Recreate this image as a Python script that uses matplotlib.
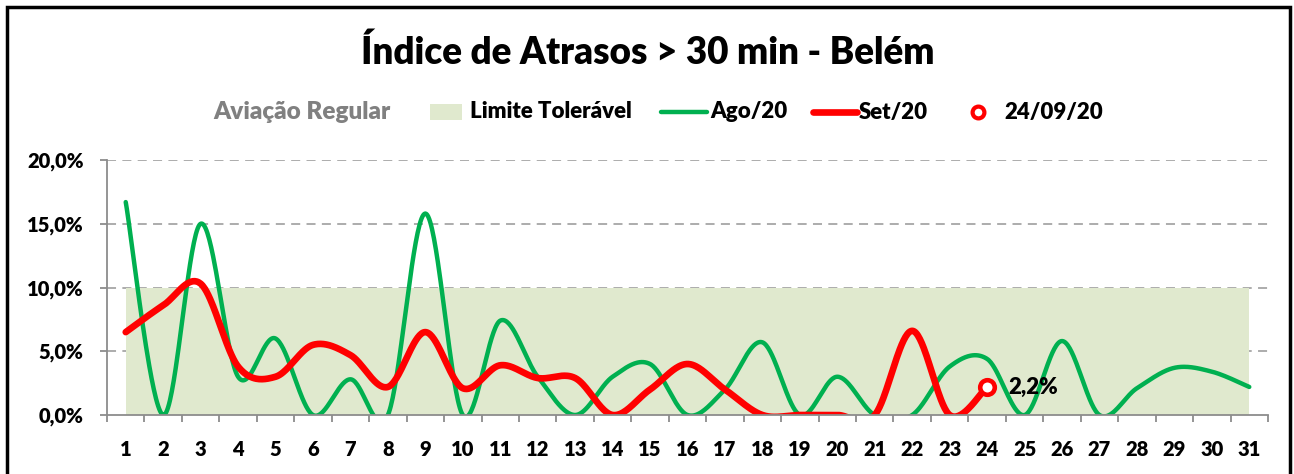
import numpy as np
import matplotlib
matplotlib.use("Agg")
import matplotlib.pyplot as plt
from matplotlib.patches import Rectangle
from matplotlib.lines import Line2D
from matplotlib.ticker import FuncFormatter, FixedLocator

plt.rcParams['font.family'] = ['Lato', 'DejaVu Sans']

days = list(range(1, 32))
limite = [10.0] * 31
ago20 = [16.7, 0, 15.0, 3.0, 6.0, 0, 2.8, 0, 15.8, 0, 7.4, 3.0, 0, 3.0, 4.0, 0,
         2.0, 5.7, 0, 3.0, 0, 0, 3.8, 4.4, 0, 5.8, 0, 2.1, 3.7, 3.4, 2.2]
set20 = [6.5, 8.6, 10.3, 3.8, 3.0, 5.5, 4.7, 2.2, 6.5, 2.1, 3.9, 2.9, 2.9, 0,
         2.0, 4.0, 2.0, 0, 0, 0, 0, 6.6, 0, 2.2]
ponto_dia = 24
ponto_val = 2.2
yticks = [0, 5, 10, 15, 20]

title = "Índice de Atrasos > 30 min - Belém"
lbl_av = "Aviação Regular"
lbl_lim = "Limite Tolerável"
lbl_ago = "Ago/20"
lbl_set = "Set/20"
lbl_pt = "24/09/20"

GREEN = "#00B050"
RED = "#FF0000"
AREA = "#E0E9CE"
GRAY = "#8C8C8C"
WEIGHT = 'heavy'


def smooth(x, y, n=40):
    x = np.asarray(x, float)
    y = np.asarray(y, float)
    P = np.column_stack([x, y])
    Pe = np.vstack([P[0], P, P[-1]])
    out = []
    t = np.linspace(0, 1, n)[:, None]
    for i in range(len(P) - 1):
        p0, p1, p2, p3 = Pe[i], Pe[i + 1], Pe[i + 2], Pe[i + 3]
        b1 = p1 + (p2 - p0) / 6.0
        b2 = p2 - (p3 - p1) / 6.0
        seg = ((1 - t) ** 3) * p1 + 3 * ((1 - t) ** 2) * t * b1 + 3 * (1 - t) * t ** 2 * b2 + t ** 3 * p2
        out.append(seg if i == 0 else seg[1:])
    s = np.vstack(out)
    return s[:, 0], s[:, 1]


W, H = 1294, 474
fig = plt.figure(figsize=(W / 100, H / 100), dpi=100)
ax = fig.add_axes([107 / W, 1 - 415 / H, (1268 - 107) / W, (415 - 160) / H])

ax.fill_between(days, 0, limite, color=AREA, lw=0, zorder=1)
for v in yticks[1:]:
    ax.axhline(v, color="#A6A6A6", lw=1.3, ls=(0, (5, 3.5)), zorder=0.5)

gx, gy = smooth(days, ago20)
ax.plot(gx, gy, color=GREEN, lw=3.2, solid_capstyle='round', zorder=3)
rx, ry = smooth(days[:len(set20)], set20)
ax.plot(rx, ry, color=RED, lw=4.8, solid_capstyle='round', zorder=4)
ax.plot([ponto_dia], [ponto_val], 'o', ms=10.5, mfc='white', mec=RED, mew=3.3, zorder=5)
ax.annotate(f"{ponto_val:.1f}%".replace('.', ','), (ponto_dia, ponto_val),
            xytext=(15, 0), textcoords='offset points', ha='left', va='center',
            fontsize=16, fontweight=WEIGHT, color='black', zorder=6)

ax.set_xlim(0.5, 31.5)
ax.set_ylim(0, 20)
for s in ['top', 'right']:
    ax.spines[s].set_visible(False)
for s in ['left', 'bottom']:
    ax.spines[s].set_color(GRAY)
    ax.spines[s].set_linewidth(1.3)
    ax.spines[s].set_zorder(7)

ax.set_xticks(days)
ax.set_xticklabels([str(d) for d in days])
ax.xaxis.set_minor_locator(FixedLocator(np.arange(0.5, 32, 1)))
ax.tick_params(axis='x', which='major', length=0, pad=18, labelsize=14.5)
ax.tick_params(axis='x', which='minor', length=5, width=1.3, color=GRAY)
ax.set_yticks(yticks)
ax.yaxis.set_major_formatter(FuncFormatter(lambda v, p: f"{v:.1f}%".replace('.', ',')))
ax.tick_params(axis='y', which='major', length=5, width=1.3, color=GRAY, pad=12, labelsize=14.5)
for lab in ax.get_xticklabels() + ax.get_yticklabels():
    lab.set_fontweight(WEIGHT)

fig.text(648 / W, 1 - 52 / H, title, ha='center', va='center', fontsize=26.5, fontweight=WEIGHT)

ly = 1 - 112 / H
fs = 16
fig.text(213 / W, ly, lbl_av, ha='left', va='center', fontsize=17.5, fontweight=WEIGHT, color='#808080')
fig.patches.append(Rectangle((430 / W, 1 - 120 / H), 32 / W, 16 / H, transform=fig.transFigure,
                             facecolor=AREA, edgecolor='none'))
fig.text(470 / W, ly, lbl_lim, ha='left', va='center', fontsize=fs, fontweight=WEIGHT)
fig.lines.append(Line2D([661 / W, 707 / W], [ly, ly], transform=fig.transFigure, color=GREEN, lw=3.2,
                        solid_capstyle='round'))
fig.text(710 / W, ly, lbl_ago, ha='left', va='center', fontsize=fs, fontweight=WEIGHT)
fig.lines.append(Line2D([813 / W, 857 / W], [ly, ly], transform=fig.transFigure, color=RED, lw=4.8,
                        solid_capstyle='round'))
fig.text(859 / W, ly, lbl_set, ha='left', va='center', fontsize=fs, fontweight=WEIGHT)
fig.lines.append(Line2D([978 / W], [ly], transform=fig.transFigure, marker='o', ms=8.5, mfc='white',
                        mec=RED, mew=3, ls='none'))
fig.text(1004 / W, ly, lbl_pt, ha='left', va='center', fontsize=fs, fontweight=WEIGHT)

fig.patches.append(Rectangle((7 / W, -0.05), (1290 - 7) / W, (H - 7) / H + 0.05, transform=fig.transFigure,
                             facecolor='none', edgecolor='black', lw=2.5))

fig.savefig("out.png", dpi=100)
